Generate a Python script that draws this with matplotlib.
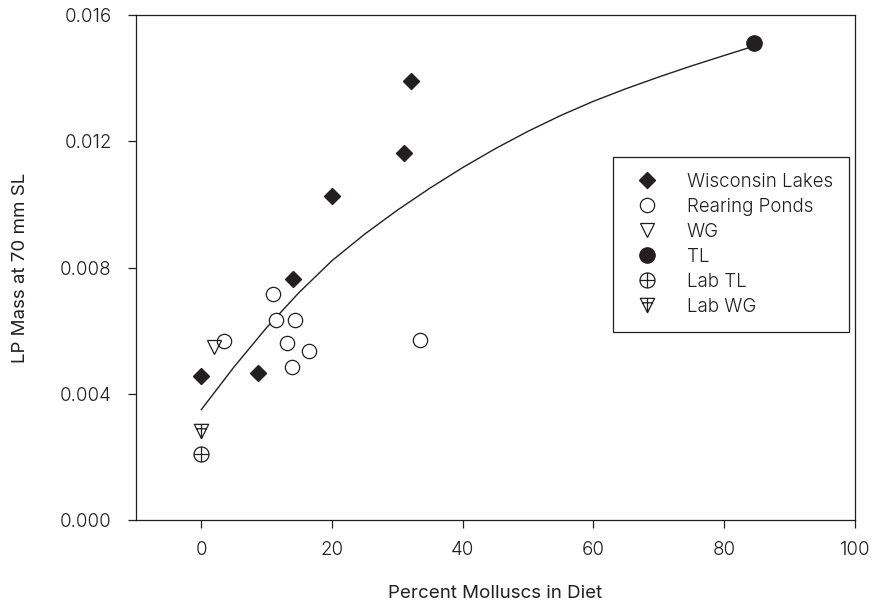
import numpy as np
import matplotlib
matplotlib.use('Agg')
import matplotlib.pyplot as plt
from matplotlib.path import Path

plt.rcParams['font.family'] = ['Inter', 'DejaVu Sans']
plt.rcParams['font.weight'] = 300
plt.rcParams['font.size'] = 13.5
ink = '#231f20'

# percent molluscs in diet, LP mass at 70 mm SL
wisc_x = [0.0, 8.6, 14.1, 20.0, 31.0, 32.1]
wisc_y = [0.00455, 0.00465, 0.00763, 0.01027, 0.01163, 0.01391]

pond_x = [3.5, 10.9, 11.5, 14.4, 13.1, 16.4, 13.9, 33.5]
pond_y = [0.00567, 0.00716, 0.00634, 0.00634, 0.00561, 0.00537, 0.00486, 0.00572]

wg_x = [2.0]
wg_y = [0.00547]

tl_x = [84.6]
tl_y = [0.01511]

labtl_x = [0.0]
labtl_y = [0.00208]

labwg_x = [0.0]
labwg_y = [0.00283]

# fitted curve
fit_x = [0, 5, 10, 15, 20, 25, 30, 35, 40, 45, 50, 55, 60, 65, 70, 75, 80, 84.6]
fit_y = [0.00350, 0.00485, 0.00610, 0.00722, 0.00822, 0.00906, 0.00982, 0.01052,
         0.01117, 0.01177, 0.01232, 0.01282, 0.01327, 0.01367, 0.01404, 0.01439,
         0.01472, 0.01502]

# marker shapes with a cross inside
circle_plus = Path.make_compound_path(
    Path.unit_circle(),
    Path([[-1, 0], [1, 0]], [Path.MOVETO, Path.LINETO]),
    Path([[0, -1], [0, 1]], [Path.MOVETO, Path.LINETO]))
tri_plus = Path.make_compound_path(
    Path([[-1, 1], [1, 1], [0, -1], [-1, 1]],
         [Path.MOVETO, Path.LINETO, Path.LINETO, Path.CLOSEPOLY]),
    Path([[-0.69, 0.38], [0.69, 0.38]], [Path.MOVETO, Path.LINETO]),
    Path([[0, 1], [0, -1]], [Path.MOVETO, Path.LINETO]))

fig = plt.figure(figsize=(8.8, 6.04), dpi=100)
ax = fig.add_axes([0.1545, 0.139, 0.817, 0.836])

ax.plot(fit_x, fit_y, '-', color=ink, lw=1.0, zorder=1)

ax.plot(wisc_x, wisc_y, 'D', color=ink, ms=8.4, ls='none', label='Wisconsin Lakes')
ax.plot(pond_x, pond_y, 'o', mfc='white', mec=ink, mew=0.9, ms=10.3, ls='none',
        label='Rearing Ponds')
ax.plot(wg_x, wg_y, 'v', mfc='none', mec=ink, mew=0.9, ms=10.3, ls='none', label='WG')
ax.plot(tl_x, tl_y, 'o', color=ink, ms=11, ls='none', label='TL')
ax.plot(labtl_x, labtl_y, marker=circle_plus, mfc='none', mec=ink, mew=0.9, ms=10.8,
        ls='none', label='Lab TL')
ax.plot(labwg_x, labwg_y, marker=tri_plus, mfc='none', mec=ink, mew=0.9, ms=10.3,
        ls='none', label='Lab WG')

ax.set_xlim(-10, 100)
ax.set_ylim(0, 0.016)
ax.set_xticks([0, 20, 40, 60, 80, 100])
ax.set_yticks([0.0, 0.004, 0.008, 0.012, 0.016])
ax.set_yticklabels(['0.000', '0.004', '0.008', '0.012', '0.016'])

for s in ax.spines.values():
    s.set_color(ink)
    s.set_linewidth(0.9)
ax.tick_params(direction='out', length=6, width=0.9, color=ink, labelcolor=ink)
ax.tick_params(axis='y', pad=11.5)
ax.tick_params(axis='x', pad=9)

ax.set_xlabel('Percent Molluscs in Diet', color=ink, labelpad=19)
ax.set_ylabel('LP Mass at 70 mm SL', color=ink, labelpad=22)

leg = ax.legend(loc='upper left', bbox_to_anchor=(0.663, 0.719), fancybox=False,
                framealpha=1, edgecolor=ink, borderpad=0.85, labelspacing=0.37,
                handletextpad=1.1, borderaxespad=0)
leg.get_frame().set_linewidth(0.9)
for t in leg.get_texts():
    t.set_color(ink)

fig.savefig('out.png', dpi=100)
